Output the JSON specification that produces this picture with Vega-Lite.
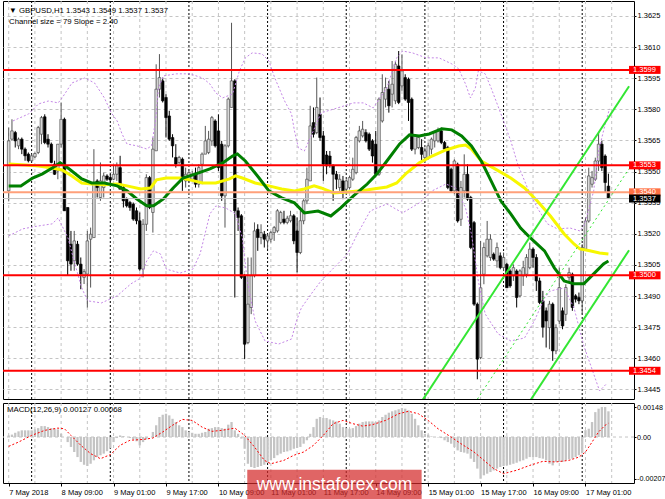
{
  "$schema": "https://vega.github.io/schema/vega-lite/v6.json",
  "background": "#ffffff",
  "padding": {"left": 1, "top": 0, "right": 0, "bottom": 0},
  "spacing": 2,
  "datasets": {
    "candles": [
      {"i":0,"o":1.35407,"h":1.35712,"l":1.35359,"c":1.35648},
      {"i":1,"o":1.35656,"h":1.35752,"l":1.35648,"c":1.35696},
      {"i":2,"o":1.35688,"h":1.35696,"l":1.35616,"c":1.35648},
      {"i":3,"o":1.35624,"h":1.35664,"l":1.35608,"c":1.35656},
      {"i":4,"o":1.35656,"h":1.35664,"l":1.35584,"c":1.35608},
      {"i":5,"o":1.35608,"h":1.35616,"l":1.35552,"c":1.35576},
      {"i":6,"o":1.35584,"h":1.35592,"l":1.35544,"c":1.35552},
      {"i":7,"o":1.35552,"h":1.35584,"l":1.35548,"c":1.35576},
      {"i":8,"o":1.35571,"h":1.35592,"l":1.35565,"c":1.35587},
      {"i":9,"o":1.35592,"h":1.3572,"l":1.35584,"c":1.35712},
      {"i":10,"o":1.3568,"h":1.35768,"l":1.35632,"c":1.3576},
      {"i":11,"o":1.35764,"h":1.35776,"l":1.35632,"c":1.3564},
      {"i":12,"o":1.35656,"h":1.3568,"l":1.35616,"c":1.35632},
      {"i":13,"o":1.35632,"h":1.3564,"l":1.3554,"c":1.35544},
      {"i":14,"o":1.35536,"h":1.35552,"l":1.35484,"c":1.35487},
      {"i":15,"o":1.35503,"h":1.35632,"l":1.35463,"c":1.35632},
      {"i":16,"o":1.35632,"h":1.35833,"l":1.35616,"c":1.35752},
      {"i":17,"o":1.35752,"h":1.3576,"l":1.35311,"c":1.35311},
      {"i":18,"o":1.35327,"h":1.35327,"l":1.34998,"c":1.3507},
      {"i":19,"o":1.3515,"h":1.35214,"l":1.35022,"c":1.35054},
      {"i":20,"o":1.3507,"h":1.35214,"l":1.35022,"c":1.35166},
      {"i":21,"o":1.3515,"h":1.35166,"l":1.35046,"c":1.35054},
      {"i":22,"o":1.35054,"h":1.35086,"l":1.34933,"c":1.35006},
      {"i":23,"o":1.3499,"h":1.3503,"l":1.34958,"c":1.35018},
      {"i":24,"o":1.35006,"h":1.35214,"l":1.34845,"c":1.35166},
      {"i":25,"o":1.35174,"h":1.3523,"l":1.34941,"c":1.35198},
      {"i":26,"o":1.35182,"h":1.35608,"l":1.35182,"c":1.35447},
      {"i":27,"o":1.35455,"h":1.35463,"l":1.35375,"c":1.35423},
      {"i":28,"o":1.35375,"h":1.35544,"l":1.35359,"c":1.35455},
      {"i":29,"o":1.35423,"h":1.35495,"l":1.35375,"c":1.35479},
      {"i":30,"o":1.35479,"h":1.35487,"l":1.35455,"c":1.35463},
      {"i":31,"o":1.35471,"h":1.35487,"l":1.35447,"c":1.35459},
      {"i":32,"o":1.35463,"h":1.35528,"l":1.35459,"c":1.35487},
      {"i":33,"o":1.35487,"h":1.35544,"l":1.35455,"c":1.35528},
      {"i":34,"o":1.35519,"h":1.35576,"l":1.35415,"c":1.35415},
      {"i":35,"o":1.35423,"h":1.35439,"l":1.35327,"c":1.35359},
      {"i":36,"o":1.35367,"h":1.35375,"l":1.35327,"c":1.35335},
      {"i":37,"o":1.35351,"h":1.35359,"l":1.35311,"c":1.35327},
      {"i":38,"o":1.35343,"h":1.35351,"l":1.35263,"c":1.35271},
      {"i":39,"o":1.35311,"h":1.35327,"l":1.35246,"c":1.35263},
      {"i":40,"o":1.35263,"h":1.35303,"l":1.35022,"c":1.3503},
      {"i":41,"o":1.3503,"h":1.35271,"l":1.3499,"c":1.35246},
      {"i":42,"o":1.35246,"h":1.35487,"l":1.35214,"c":1.35471},
      {"i":43,"o":1.35471,"h":1.35479,"l":1.35319,"c":1.35327},
      {"i":44,"o":1.35303,"h":1.35664,"l":1.35206,"c":1.35608},
      {"i":45,"o":1.356,"h":1.36017,"l":1.356,"c":1.35897},
      {"i":46,"o":1.35897,"h":1.36066,"l":1.35857,"c":1.35953},
      {"i":47,"o":1.35937,"h":1.35953,"l":1.35833,"c":1.35841},
      {"i":48,"o":1.35857,"h":1.35873,"l":1.35664,"c":1.3576},
      {"i":49,"o":1.35768,"h":1.35793,"l":1.35648,"c":1.35656},
      {"i":50,"o":1.35664,"h":1.3568,"l":1.35568,"c":1.35624},
      {"i":51,"o":1.35568,"h":1.35632,"l":1.35519,"c":1.35536},
      {"i":52,"o":1.35544,"h":1.35576,"l":1.35536,"c":1.35568},
      {"i":53,"o":1.3556,"h":1.35568,"l":1.35407,"c":1.35471},
      {"i":54,"o":1.35455,"h":1.35519,"l":1.35423,"c":1.35487},
      {"i":55,"o":1.35455,"h":1.35503,"l":1.35447,"c":1.35495},
      {"i":56,"o":1.35463,"h":1.35503,"l":1.35455,"c":1.35487},
      {"i":57,"o":1.35487,"h":1.35519,"l":1.35423,"c":1.35439},
      {"i":58,"o":1.35439,"h":1.35535,"l":1.35423,"c":1.35519},
      {"i":59,"o":1.35535,"h":1.35592,"l":1.35439,"c":1.35584},
      {"i":60,"o":1.35584,"h":1.3572,"l":1.35584,"c":1.35648},
      {"i":61,"o":1.35592,"h":1.35696,"l":1.35584,"c":1.35656},
      {"i":62,"o":1.35648,"h":1.35768,"l":1.35624,"c":1.3576},
      {"i":63,"o":1.35744,"h":1.35752,"l":1.35616,"c":1.35624},
      {"i":64,"o":1.35696,"h":1.35776,"l":1.35503,"c":1.35519},
      {"i":65,"o":1.35632,"h":1.35648,"l":1.35359,"c":1.35383},
      {"i":66,"o":1.35383,"h":1.35632,"l":1.3523,"c":1.35624},
      {"i":67,"o":1.35624,"h":1.35857,"l":1.35616,"c":1.35849},
      {"i":68,"o":1.35809,"h":1.36217,"l":1.35809,"c":1.35937},
      {"i":69,"o":1.35937,"h":1.35945,"l":1.34893,"c":1.35311},
      {"i":70,"o":1.35311,"h":1.35327,"l":1.35214,"c":1.35279},
      {"i":71,"o":1.35287,"h":1.35295,"l":1.34982,"c":1.3499},
      {"i":72,"o":1.34998,"h":1.35006,"l":1.34596,"c":1.34668},
      {"i":73,"o":1.34676,"h":1.35086,"l":1.34668,"c":1.34861},
      {"i":74,"o":1.34845,"h":1.35086,"l":1.34813,"c":1.34998},
      {"i":75,"o":1.34998,"h":1.35255,"l":1.3499,"c":1.35214},
      {"i":76,"o":1.35222,"h":1.35246,"l":1.35118,"c":1.35182},
      {"i":77,"o":1.35182,"h":1.35246,"l":1.3515,"c":1.35206},
      {"i":78,"o":1.35198,"h":1.35214,"l":1.35134,"c":1.35174},
      {"i":79,"o":1.35166,"h":1.35198,"l":1.35126,"c":1.3519},
      {"i":80,"o":1.35174,"h":1.35214,"l":1.35158,"c":1.35206},
      {"i":81,"o":1.35206,"h":1.35238,"l":1.35166,"c":1.3523},
      {"i":82,"o":1.35214,"h":1.35319,"l":1.35206,"c":1.35311},
      {"i":83,"o":1.35255,"h":1.35311,"l":1.35246,"c":1.35303},
      {"i":84,"o":1.35271,"h":1.35311,"l":1.35246,"c":1.35255},
      {"i":85,"o":1.35255,"h":1.35287,"l":1.35246,"c":1.35275},
      {"i":86,"o":1.35263,"h":1.35311,"l":1.35255,"c":1.35287},
      {"i":87,"o":1.35287,"h":1.35295,"l":1.3515,"c":1.35166},
      {"i":88,"o":1.35214,"h":1.35279,"l":1.35014,"c":1.3511},
      {"i":89,"o":1.3511,"h":1.35311,"l":1.35102,"c":1.35263},
      {"i":90,"o":1.35263,"h":1.35367,"l":1.35246,"c":1.35359},
      {"i":91,"o":1.35359,"h":1.35519,"l":1.35343,"c":1.35463},
      {"i":92,"o":1.35455,"h":1.35817,"l":1.35455,"c":1.3572},
      {"i":93,"o":1.35736,"h":1.35809,"l":1.35664,"c":1.3568},
      {"i":94,"o":1.35688,"h":1.35953,"l":1.3568,"c":1.35809},
      {"i":95,"o":1.35776,"h":1.35857,"l":1.35648,"c":1.35664},
      {"i":96,"o":1.35672,"h":1.35696,"l":1.35455,"c":1.35536},
      {"i":97,"o":1.3558,"h":1.35599,"l":1.35487,"c":1.35527},
      {"i":98,"o":1.35575,"h":1.35599,"l":1.35519,"c":1.35535},
      {"i":99,"o":1.35527,"h":1.35535,"l":1.35359,"c":1.35487},
      {"i":100,"o":1.35487,"h":1.35503,"l":1.35415,"c":1.35463},
      {"i":101,"o":1.35423,"h":1.35487,"l":1.35407,"c":1.35463},
      {"i":102,"o":1.35455,"h":1.35479,"l":1.35367,"c":1.35407},
      {"i":103,"o":1.35415,"h":1.35463,"l":1.35407,"c":1.35455},
      {"i":104,"o":1.35423,"h":1.35479,"l":1.35415,"c":1.35471},
      {"i":105,"o":1.35463,"h":1.35567,"l":1.35455,"c":1.35511},
      {"i":106,"o":1.35495,"h":1.35672,"l":1.35487,"c":1.35664},
      {"i":107,"o":1.35648,"h":1.3572,"l":1.3564,"c":1.35696},
      {"i":108,"o":1.35672,"h":1.35744,"l":1.35664,"c":1.35704},
      {"i":109,"o":1.35688,"h":1.35704,"l":1.3564,"c":1.35648},
      {"i":110,"o":1.3568,"h":1.35688,"l":1.35599,"c":1.35608},
      {"i":111,"o":1.35648,"h":1.35656,"l":1.35543,"c":1.35575},
      {"i":112,"o":1.35632,"h":1.35696,"l":1.35479,"c":1.35487},
      {"i":113,"o":1.35487,"h":1.35857,"l":1.35479,"c":1.35849},
      {"i":114,"o":1.35744,"h":1.35969,"l":1.35736,"c":1.35881},
      {"i":115,"o":1.35849,"h":1.35953,"l":1.35809,"c":1.35905},
      {"i":116,"o":1.35897,"h":1.35937,"l":1.35784,"c":1.35817},
      {"i":117,"o":1.35873,"h":1.36033,"l":1.35809,"c":1.35921},
      {"i":118,"o":1.35841,"h":1.36033,"l":1.35825,"c":1.36017},
      {"i":119,"o":1.36009,"h":1.36081,"l":1.35825,"c":1.35833},
      {"i":120,"o":1.35913,"h":1.36065,"l":1.35889,"c":1.35985},
      {"i":121,"o":1.35953,"h":1.35969,"l":1.35841,"c":1.35849},
      {"i":122,"o":1.35945,"h":1.35953,"l":1.35744,"c":1.35833},
      {"i":123,"o":1.35849,"h":1.35857,"l":1.35599,"c":1.35608},
      {"i":124,"o":1.35608,"h":1.3568,"l":1.35583,"c":1.35672},
      {"i":125,"o":1.35616,"h":1.35672,"l":1.35608,"c":1.35664},
      {"i":126,"o":1.35616,"h":1.35656,"l":1.35551,"c":1.35583},
      {"i":127,"o":1.35567,"h":1.35616,"l":1.35551,"c":1.35599},
      {"i":128,"o":1.35567,"h":1.3564,"l":1.35559,"c":1.35624},
      {"i":129,"o":1.35608,"h":1.35664,"l":1.35583,"c":1.35656},
      {"i":130,"o":1.35648,"h":1.35696,"l":1.35616,"c":1.35688},
      {"i":131,"o":1.35648,"h":1.35712,"l":1.3564,"c":1.35696},
      {"i":132,"o":1.35696,"h":1.35712,"l":1.35632,"c":1.3564},
      {"i":133,"o":1.3564,"h":1.35648,"l":1.35599,"c":1.35608},
      {"i":134,"o":1.35616,"h":1.35624,"l":1.35415,"c":1.35423},
      {"i":135,"o":1.35511,"h":1.35519,"l":1.35399,"c":1.35407},
      {"i":136,"o":1.35407,"h":1.35559,"l":1.35391,"c":1.35551},
      {"i":137,"o":1.35535,"h":1.35543,"l":1.35254,"c":1.35262},
      {"i":138,"o":1.3527,"h":1.35455,"l":1.35238,"c":1.35423},
      {"i":139,"o":1.35407,"h":1.35583,"l":1.35375,"c":1.35487},
      {"i":140,"o":1.35487,"h":1.35535,"l":1.35359,"c":1.35367},
      {"i":141,"o":1.35375,"h":1.35383,"l":1.35126,"c":1.35134},
      {"i":142,"o":1.35254,"h":1.35262,"l":1.34853,"c":1.34861},
      {"i":143,"o":1.34861,"h":1.34869,"l":1.34499,"c":1.34596},
      {"i":144,"o":1.34604,"h":1.35166,"l":1.34596,"c":1.3494},
      {"i":145,"o":1.35005,"h":1.35158,"l":1.34957,"c":1.35134},
      {"i":146,"o":1.35094,"h":1.35262,"l":1.35086,"c":1.35174},
      {"i":147,"o":1.35086,"h":1.35198,"l":1.3507,"c":1.35174},
      {"i":148,"o":1.35102,"h":1.3511,"l":1.3507,"c":1.35078},
      {"i":149,"o":1.3507,"h":1.35158,"l":1.35037,"c":1.35134},
      {"i":150,"o":1.35094,"h":1.3511,"l":1.35029,"c":1.35037},
      {"i":151,"o":1.35037,"h":1.3511,"l":1.35021,"c":1.35086},
      {"i":152,"o":1.35053,"h":1.35061,"l":1.3494,"c":1.3494},
      {"i":153,"o":1.35021,"h":1.35029,"l":1.3494,"c":1.34949},
      {"i":154,"o":1.34997,"h":1.35053,"l":1.34973,"c":1.35037},
      {"i":155,"o":1.35021,"h":1.35029,"l":1.34845,"c":1.34893},
      {"i":156,"o":1.34901,"h":1.35029,"l":1.34893,"c":1.35021},
      {"i":157,"o":1.34997,"h":1.3507,"l":1.34949,"c":1.35037},
      {"i":158,"o":1.35005,"h":1.35102,"l":1.34989,"c":1.35086},
      {"i":159,"o":1.35037,"h":1.35158,"l":1.35029,"c":1.35126},
      {"i":160,"o":1.35126,"h":1.35134,"l":1.35037,"c":1.35086},
      {"i":161,"o":1.35086,"h":1.35102,"l":1.34925,"c":1.34973},
      {"i":162,"o":1.34973,"h":1.34989,"l":1.34861,"c":1.34869},
      {"i":163,"o":1.34877,"h":1.34925,"l":1.347,"c":1.3475},
      {"i":164,"o":1.34829,"h":1.34845,"l":1.34652,"c":1.3478},
      {"i":165,"o":1.34748,"h":1.34877,"l":1.34644,"c":1.34861},
      {"i":166,"o":1.34861,"h":1.34869,"l":1.34588,"c":1.34636},
      {"i":167,"o":1.34636,"h":1.34764,"l":1.3462,"c":1.34748},
      {"i":168,"o":1.3478,"h":1.35037,"l":1.34764,"c":1.34941},
      {"i":169,"o":1.34829,"h":1.34845,"l":1.3474,"c":1.34756},
      {"i":170,"o":1.34812,"h":1.34957,"l":1.3478,"c":1.34941},
      {"i":171,"o":1.34989,"h":1.35037,"l":1.34973,"c":1.35013},
      {"i":172,"o":1.35005,"h":1.35013,"l":1.34829,"c":1.34845},
      {"i":173,"o":1.34901,"h":1.34909,"l":1.34869,"c":1.34885},
      {"i":174,"o":1.34893,"h":1.34917,"l":1.34861,"c":1.34877},
      {"i":175,"o":1.34877,"h":1.3515,"l":1.34812,"c":1.35134},
      {"i":176,"o":1.35126,"h":1.35278,"l":1.35118,"c":1.35262},
      {"i":177,"o":1.35262,"h":1.35519,"l":1.35254,"c":1.35479},
      {"i":178,"o":1.35439,"h":1.35503,"l":1.35423,"c":1.35471},
      {"i":179,"o":1.35463,"h":1.35567,"l":1.35455,"c":1.35551},
      {"i":180,"o":1.35551,"h":1.35688,"l":1.35503,"c":1.35632},
      {"i":181,"o":1.35632,"h":1.35648,"l":1.35503,"c":1.35519},
      {"i":182,"o":1.35575,"h":1.35583,"l":1.35399,"c":1.35447},
      {"i":183,"o":1.3543,"h":1.3549,"l":1.3537,"c":1.3537}
    ],
    "maGreen": [
      {"i":0,"p":1.35431},{"i":3.7,"p":1.35431},{"i":7.3,"p":1.35469},{"i":10.3,"p":1.35489},
      {"i":13.3,"p":1.35517},{"i":15.7,"p":1.35542},{"i":18.1,"p":1.35517},{"i":22.3,"p":1.35465},
      {"i":25.3,"p":1.35445},{"i":29.2,"p":1.35445},{"i":33.1,"p":1.35431},{"i":36.1,"p":1.35407},
      {"i":39.1,"p":1.35368},{"i":42.1,"p":1.35335},{"i":44.2,"p":1.35335},{"i":47.2,"p":1.35368},
      {"i":50.2,"p":1.35421},{"i":53.2,"p":1.35469},{"i":57.1,"p":1.35489},{"i":61.4,"p":1.35513},
      {"i":65.3,"p":1.35542},{"i":68.3,"p":1.35575},{"i":69.8,"p":1.35585},{"i":72.2,"p":1.35551},
      {"i":76.4,"p":1.35469},{"i":79.4,"p":1.35407},{"i":83.3,"p":1.35373},{"i":87.2,"p":1.35349},
      {"i":90.2,"p":1.35301},{"i":94.4,"p":1.3531},{"i":98.3,"p":1.35286},{"i":101.3,"p":1.35325},
      {"i":105.2,"p":1.35383},{"i":109.4,"p":1.3544},{"i":112.4,"p":1.35489},{"i":115.4,"p":1.35551},
      {"i":119.3,"p":1.35633},{"i":122.3,"p":1.35677},{"i":125.3,"p":1.35672},{"i":128.3,"p":1.35681},
      {"i":132.2,"p":1.35706},{"i":135.2,"p":1.35701},{"i":138.2,"p":1.35672},{"i":141.2,"p":1.35624},
      {"i":144.2,"p":1.35551},{"i":147.2,"p":1.35455},{"i":150.2,"p":1.35358},{"i":153.2,"p":1.35296},
      {"i":156.2,"p":1.35228},{"i":159.2,"p":1.3518},{"i":163.5,"p":1.35118},{"i":166.5,"p":1.35036},
      {"i":169.5,"p":1.34973},{"i":172.5,"p":1.34959},{"i":175.5,"p":1.34959},{"i":178.5,"p":1.35007},
      {"i":181.5,"p":1.35055},{"i":183,"p":1.35069}
    ],
    "maYellow": [
      {"i":0,"p":1.35537},{"i":5.2,"p":1.35532},{"i":9.1,"p":1.35527},{"i":13.3,"p":1.35517},
      {"i":16.3,"p":1.35508},{"i":19.3,"p":1.35479},{"i":22.3,"p":1.35445},{"i":25.3,"p":1.3544},
      {"i":29.2,"p":1.35436},{"i":33.1,"p":1.3544},{"i":36.1,"p":1.35431},{"i":40.3,"p":1.35416},
      {"i":43.3,"p":1.35421},{"i":45.1,"p":1.3546},{"i":48.1,"p":1.35469},{"i":52.3,"p":1.35469},
      {"i":55.3,"p":1.3546},{"i":59.2,"p":1.35445},{"i":63.2,"p":1.35445},{"i":67.4,"p":1.35465},
      {"i":69.2,"p":1.35479},{"i":71.3,"p":1.35469},{"i":75.2,"p":1.35445},{"i":79.4,"p":1.35431},
      {"i":83.3,"p":1.35416},{"i":87.2,"p":1.35407},{"i":90.2,"p":1.35416},{"i":93.2,"p":1.35431},
      {"i":95.3,"p":1.35421},{"i":99.2,"p":1.35397},{"i":103.4,"p":1.35402},{"i":107.3,"p":1.35407},
      {"i":111.2,"p":1.35416},{"i":115.4,"p":1.35426},{"i":118.4,"p":1.35445},{"i":121.4,"p":1.35493},
      {"i":125.3,"p":1.35542},{"i":129.2,"p":1.35575},{"i":133.4,"p":1.35604},{"i":137.3,"p":1.35623},
      {"i":139.4,"p":1.35628},{"i":141.2,"p":1.35609},{"i":144.2,"p":1.35551},{"i":148.4,"p":1.35513},
      {"i":153.2,"p":1.35469},{"i":157.4,"p":1.35421},{"i":161.3,"p":1.35358},{"i":165.3,"p":1.35286},
      {"i":169.5,"p":1.35199},{"i":172.5,"p":1.35151},{"i":174.3,"p":1.35127},{"i":177.3,"p":1.35118},
      {"i":180.3,"p":1.35108},{"i":183,"p":1.35103}
    ],
    "bands": [
      {"b":"u","i":1.3,"p":1.35744},{"b":"u","i":6.1,"p":1.35778},{"b":"u","i":9.1,"p":1.35826},{"b":"u","i":12.1,"p":1.3584},
      {"b":"u","i":15.1,"p":1.35831},{"b":"u","i":16.3,"p":1.35855},{"b":"u","i":19.3,"p":1.35927},{"b":"u","i":23.2,"p":1.35951},
      {"b":"u","i":26.2,"p":1.35927},{"b":"u","i":29.2,"p":1.35855},{"b":"u","i":31.3,"p":1.35783},{"b":"u","i":33.1,"p":1.35744},
      {"b":"u","i":34.6,"p":1.35681},{"b":"u","i":36.1,"p":1.35633},{"b":"u","i":39.1,"p":1.35624},{"b":"u","i":42.1,"p":1.35609},
      {"b":"u","i":43.6,"p":1.35624},{"b":"u","i":44.8,"p":1.35744},{"b":"u","i":45.7,"p":1.35903},{"b":"u","i":47.2,"p":1.35961},
      {"b":"u","i":51.1,"p":1.35971},{"b":"u","i":55.3,"p":1.35971},{"b":"u","i":59.2,"p":1.35951},{"b":"u","i":61.4,"p":1.35922},
      {"b":"u","i":63.2,"p":1.35879},{"b":"u","i":65.3,"p":1.35855},{"b":"u","i":68.3,"p":1.35874},{"b":"u","i":70.4,"p":1.35985},
      {"b":"u","i":72.2,"p":1.36048},{"b":"u","i":74.3,"p":1.36072},{"b":"u","i":77.3,"p":1.36067},{"b":"u","i":79.4,"p":1.36033},
      {"b":"u","i":81.2,"p":1.35951},{"b":"u","i":84.2,"p":1.3584},{"b":"u","i":86.3,"p":1.35778},{"b":"u","i":87.2,"p":1.35696},
      {"b":"u","i":88.4,"p":1.35614},{"b":"u","i":90.2,"p":1.35599},{"b":"u","i":92.3,"p":1.35672},{"b":"u","i":95.3,"p":1.35783},
      {"b":"u","i":100.4,"p":1.35807},{"b":"u","i":105.2,"p":1.35831},{"b":"u","i":108.2,"p":1.35831},{"b":"u","i":111.2,"p":1.35807},
      {"b":"u","i":115.4,"p":1.35903},{"b":"u","i":118.4,"p":1.36048},{"b":"u","i":120.2,"p":1.36081},{"b":"u","i":123.2,"p":1.36072},
      {"b":"u","i":127.4,"p":1.36048},{"b":"u","i":131.3,"p":1.36048},{"b":"u","i":135.2,"p":1.36019},{"b":"u","i":137.3,"p":1.35995},
      {"b":"u","i":139.4,"p":1.35922},{"b":"u","i":140.9,"p":1.35855},{"b":"u","i":142.4,"p":1.35903},{"b":"u","i":143.3,"p":1.35985},
      {"b":"u","i":145.4,"p":1.35971},{"b":"u","i":147.2,"p":1.35903},{"b":"u","i":150.2,"p":1.35778},{"b":"u","i":153.2,"p":1.35648},
      {"b":"u","i":155.3,"p":1.35537},{"b":"u","i":158.3,"p":1.35421},{"b":"u","i":161.3,"p":1.35325},{"b":"u","i":164.4,"p":1.35248},
      {"b":"u","i":167.4,"p":1.35224},{"b":"u","i":171.3,"p":1.35228},{"b":"u","i":174.3,"p":1.35214},{"b":"u","i":175.5,"p":1.35238},
      {"b":"u","i":176.9,"p":1.3531},{"b":"u","i":178.5,"p":1.35407},{"b":"u","i":180,"p":1.35599},{"b":"u","i":181.5,"p":1.35696},
      {"b":"u","i":183.3,"p":1.35802},
      {"b":"l","i":0,"p":1.3519},{"b":"l","i":4.3,"p":1.35224},{"b":"l","i":9.1,"p":1.35238},{"b":"l","i":13.3,"p":1.35248},
      {"b":"l","i":15.1,"p":1.35277},{"b":"l","i":18.1,"p":1.3518},{"b":"l","i":20.2,"p":1.35055},{"b":"l","i":22.3,"p":1.34939},
      {"b":"l","i":24.1,"p":1.34877},{"b":"l","i":28.3,"p":1.34867},{"b":"l","i":33.1,"p":1.34901},{"b":"l","i":37.3,"p":1.34959},
      {"b":"l","i":40.3,"p":1.34987},{"b":"l","i":42.1,"p":1.35069},{"b":"l","i":44.2,"p":1.35118},{"b":"l","i":46.3,"p":1.35103},
      {"b":"l","i":48.1,"p":1.3503},{"b":"l","i":52.3,"p":1.35011},{"b":"l","i":56.2,"p":1.3503},{"b":"l","i":58.4,"p":1.35103},
      {"b":"l","i":59.9,"p":1.35199},{"b":"l","i":61.4,"p":1.35296},{"b":"l","i":63.2,"p":1.35334},{"b":"l","i":66.2,"p":1.35325},
      {"b":"l","i":69.2,"p":1.35296},{"b":"l","i":71.3,"p":1.3518},{"b":"l","i":72.8,"p":1.34973},{"b":"l","i":75.2,"p":1.3478},
      {"b":"l","i":78.2,"p":1.34684},{"b":"l","i":82.4,"p":1.34669},{"b":"l","i":86.3,"p":1.34693},{"b":"l","i":87.8,"p":1.3478},
      {"b":"l","i":89.3,"p":1.34843},{"b":"l","i":92.3,"p":1.3491},{"b":"l","i":95.3,"p":1.34973},{"b":"l","i":99.2,"p":1.35036},
      {"b":"l","i":103.4,"p":1.35103},{"b":"l","i":106.4,"p":1.35199},{"b":"l","i":110.3,"p":1.3531},{"b":"l","i":115.4,"p":1.35344},
      {"b":"l","i":120.2,"p":1.35301},{"b":"l","i":125.3,"p":1.35349},{"b":"l","i":129.2,"p":1.35407},{"b":"l","i":133.4,"p":1.3544},
      {"b":"l","i":136.4,"p":1.35421},{"b":"l","i":139.4,"p":1.35325},{"b":"l","i":141.2,"p":1.35199},{"b":"l","i":143.3,"p":1.34973},
      {"b":"l","i":145.4,"p":1.34814},{"b":"l","i":149.3,"p":1.34718},{"b":"l","i":153.2,"p":1.34684},{"b":"l","i":157.4,"p":1.34698},
      {"b":"l","i":160.4,"p":1.3478},{"b":"l","i":163.5,"p":1.34891},{"b":"l","i":165.3,"p":1.34925},{"b":"l","i":169.5,"p":1.34939},
      {"b":"l","i":172.5,"p":1.34843},{"b":"l","i":175.5,"p":1.3466},{"b":"l","i":178.5,"p":1.34525},{"b":"l","i":180.3,"p":1.34443},
      {"b":"l","i":182.4,"p":1.34477}
    ],
    "channel": [
      {"line":"upper","i":126,"p":1.34392},{"line":"upper","i":189.3,"p":1.35911},
      {"line":"mid","i":143,"p":1.34403},{"line":"mid","i":189.3,"p":1.35514},
      {"line":"lower","i":159,"p":1.34393},{"line":"lower","i":189.3,"p":1.35121}
    ],
    "levels": [
      {"p":1.3599,"kind":"level"},{"p":1.3553,"kind":"level"},{"p":1.35,"kind":"level"},
      {"p":1.3454,"kind":"level"},{"p":1.354,"kind":"pending"},{"p":1.3537,"kind":"bid"}
    ],
    "days": [{"i":7},{"i":31},{"i":55},{"i":79},{"i":103},{"i":127},{"i":151},{"i":175}],
    "grid": [{"i":0},{"i":8},{"i":16},{"i":24},{"i":32},{"i":40},{"i":48},{"i":56},{"i":64},{"i":72},{"i":80},{"i":88},{"i":96},{"i":104},{"i":112},{"i":120},{"i":128},{"i":136},{"i":144},{"i":152},{"i":160},{"i":168},{"i":176},{"i":184}],
    "macd": [
      {"i":0,"m":0.00008},{"i":1,"m":0.00012},{"i":2,"m":0.00021},{"i":3,"m":0.00028},{"i":4,"m":0.00033},
      {"i":5,"m":0.00033},{"i":6,"m":0.00033},{"i":7,"m":0.00033},{"i":8,"m":0.00038},{"i":9,"m":0.00044},
      {"i":10,"m":0.00054},{"i":11,"m":0.00054},{"i":12,"m":0.00049},{"i":13,"m":0.00044},{"i":14,"m":0.00041},
      {"i":15,"m":0.00038},{"i":16,"m":0.00016},{"i":17,"m":0},{"i":18,"m":-0.00025},{"i":19,"m":-0.00049},
      {"i":20,"m":-0.00074},{"i":21,"m":-0.00099},{"i":22,"m":-0.00123},{"i":23,"m":-0.00137},{"i":24,"m":-0.00143},
      {"i":25,"m":-0.00132},{"i":26,"m":-0.00115},{"i":27,"m":-0.00099},{"i":28,"m":-0.0009},{"i":29,"m":-0.00082},
      {"i":30,"m":-0.0007},{"i":31,"m":-0.00055},{"i":32,"m":-0.00025},{"i":33,"m":-0.00005},{"i":34,"m":0.00008},
      {"i":35,"m":0.00005},{"i":36,"m":0},{"i":37,"m":-0.00005},{"i":38,"m":-0.00012},{"i":39,"m":-0.00021},
      {"i":40,"m":-0.00041},{"i":41,"m":-0.00025},{"i":42,"m":-0.00012},{"i":43,"m":0},{"i":44,"m":0.00025},
      {"i":45,"m":0.00058},{"i":46,"m":0.00099},{"i":47,"m":0.0011},{"i":48,"m":0.00115},{"i":49,"m":0.00107},
      {"i":50,"m":0.0009},{"i":51,"m":0.00074},{"i":52,"m":0.00058},{"i":53,"m":0.00049},{"i":54,"m":0.00033},
      {"i":55,"m":0.00025},{"i":56,"m":0.00021},{"i":57,"m":0.00016},{"i":58,"m":0.00016},{"i":59,"m":0.00021},
      {"i":60,"m":0.00025},{"i":61,"m":0.00041},{"i":62,"m":0.00044},{"i":63,"m":0.00049},{"i":64,"m":0.00049},
      {"i":65,"m":0.00044},{"i":66,"m":0.00041},{"i":67,"m":0.00061},{"i":68,"m":0.00074},{"i":69,"m":0.00033},
      {"i":70,"m":0.00016},{"i":71,"m":-0.00008},{"i":72,"m":-0.00058},{"i":73,"m":-0.00132},{"i":74,"m":-0.00148},
      {"i":75,"m":-0.00153},{"i":76,"m":-0.00148},{"i":77,"m":-0.00143},{"i":78,"m":-0.00137},{"i":79,"m":-0.00127},
      {"i":80,"m":-0.00115},{"i":81,"m":-0.00104},{"i":82,"m":-0.0009},{"i":83,"m":-0.00082},{"i":84,"m":-0.00074},
      {"i":85,"m":-0.00071},{"i":86,"m":-0.00066},{"i":87,"m":-0.00058},{"i":88,"m":-0.00054},{"i":89,"m":-0.00049},
      {"i":90,"m":-0.00033},{"i":91,"m":-0.00016},{"i":92,"m":0.00016},{"i":93,"m":0.00049},{"i":94,"m":0.0009},
      {"i":95,"m":0.00099},{"i":96,"m":0.00094},{"i":97,"m":0.00094},{"i":98,"m":0.00087},{"i":99,"m":0.00082},
      {"i":100,"m":0.00077},{"i":101,"m":0.00066},{"i":102,"m":0.00049},{"i":103,"m":0.00044},{"i":104,"m":0.00041},
      {"i":105,"m":0.00044},{"i":106,"m":0.00054},{"i":107,"m":0.00066},{"i":108,"m":0.00074},{"i":109,"m":0.00077},
      {"i":110,"m":0.00077},{"i":111,"m":0.00077},{"i":112,"m":0.00074},{"i":113,"m":0.00082},{"i":114,"m":0.00099},
      {"i":115,"m":0.0011},{"i":116,"m":0.0012},{"i":117,"m":0.00127},{"i":118,"m":0.00132},{"i":119,"m":0.00137},
      {"i":120,"m":0.00143},{"i":121,"m":0.0014},{"i":122,"m":0.00132},{"i":123,"m":0.00115},{"i":124,"m":0.0009},
      {"i":125,"m":0.00058},{"i":126,"m":0.00033},{"i":127,"m":0.00016},{"i":128,"m":0.00012},{"i":129,"m":0.00003},
      {"i":130,"m":0},{"i":131,"m":-0.00002},{"i":132,"m":-0.00005},{"i":133,"m":-0.00016},{"i":134,"m":-0.00025},
      {"i":135,"m":-0.00033},{"i":136,"m":-0.0005},{"i":137,"m":-0.00066},{"i":138,"m":-0.00074},{"i":139,"m":-0.00077},
      {"i":140,"m":-0.00082},{"i":141,"m":-0.00107},{"i":142,"m":-0.00123},{"i":143,"m":-0.00156},{"i":144,"m":-0.00206},
      {"i":145,"m":-0.00189},{"i":146,"m":-0.00181},{"i":147,"m":-0.00173},{"i":148,"m":-0.00165},{"i":149,"m":-0.00156},
      {"i":150,"m":-0.00148},{"i":151,"m":-0.00143},{"i":152,"m":-0.0014},{"i":153,"m":-0.00137},{"i":154,"m":-0.00132},
      {"i":155,"m":-0.00127},{"i":156,"m":-0.0012},{"i":157,"m":-0.00115},{"i":158,"m":-0.00107},{"i":159,"m":-0.00099},
      {"i":160,"m":-0.00099},{"i":161,"m":-0.00099},{"i":162,"m":-0.00104},{"i":163,"m":-0.00107},{"i":164,"m":-0.00115},
      {"i":165,"m":-0.00132},{"i":166,"m":-0.0014},{"i":167,"m":-0.00123},{"i":168,"m":-0.00123},{"i":169,"m":-0.00123},
      {"i":170,"m":-0.00115},{"i":171,"m":-0.0011},{"i":172,"m":-0.00107},{"i":173,"m":-0.00099},{"i":174,"m":-0.0009},
      {"i":175,"m":-0.0008},{"i":176,"m":0.00034},{"i":177,"m":0.00041},{"i":178,"m":0.00074},{"i":179,"m":0.00123},
      {"i":180,"m":0.0014},{"i":181,"m":0.00148},{"i":182,"m":0.00148},{"i":183,"m":0.00127}
    ],
    "signal": [
      {"i":0,"s":-0.00046},{"i":3,"s":-0.00025},{"i":7,"s":0.00008},{"i":11,"s":0.00033},{"i":15,"s":0.00044},
      {"i":17,"s":0.00041},{"i":19,"s":0.00008},{"i":22,"s":-0.00041},{"i":25,"s":-0.00082},{"i":28,"s":-0.00107},
      {"i":31,"s":-0.00087},{"i":34,"s":-0.00041},{"i":37,"s":-0.00016},{"i":41,"s":-0.00012},{"i":44,"s":-0.00005},
      {"i":47,"s":0.00025},{"i":50,"s":0.00058},{"i":53,"s":0.00087},{"i":56,"s":0.00082},{"i":59,"s":0.00049},
      {"i":62,"s":0.00028},{"i":65,"s":0.00033},{"i":69,"s":0.00044},{"i":72,"s":0.00008},{"i":75,"s":-0.00049},
      {"i":78,"s":-0.00115},{"i":80,"s":-0.00132},{"i":84,"s":-0.00115},{"i":87,"s":-0.0009},{"i":90,"s":-0.00074},
      {"i":93,"s":-0.00041},{"i":96,"s":0.00008},{"i":99,"s":0.00066},{"i":102,"s":0.00082},{"i":105,"s":0.00066},
      {"i":108,"s":0.00054},{"i":111,"s":0.00061},{"i":115,"s":0.00082},{"i":119,"s":0.00115},{"i":122,"s":0.00127},
      {"i":125,"s":0.00115},{"i":128,"s":0.00082},{"i":131,"s":0.00041},{"i":135,"s":0},{"i":138,"s":-0.00033},
      {"i":142,"s":-0.00074},{"i":145,"s":-0.00115},{"i":148,"s":-0.00156},{"i":151,"s":-0.00181},{"i":155,"s":-0.00164},
      {"i":159,"s":-0.0014},{"i":163,"s":-0.0012},{"i":167,"s":-0.00123},{"i":171,"s":-0.00115},{"i":174,"s":-0.00099},
      {"i":176,"s":-0.00074},{"i":178,"s":-0.00025},{"i":180,"s":0.00025},{"i":182,"s":0.00058},{"i":183,"s":0.00068}
    ]
  },
  "vconcat": [
    {
      "width": 631,
      "height": 398,
      "title": {
        "text": "▼ GBPUSD,H1 1.3543 1.3549 1.3537 1.3537",
        "subtitle": "Channel size = 79 Slope = 2.40",
        "anchor": "start", "frame": "group", "orient": "top",
        "offset": -25, "dx": 6,
        "font": "Liberation Sans", "fontSize": 7.8, "fontWeight": "normal", "color": "#000000",
        "subtitleFont": "Liberation Sans", "subtitleFontSize": 7.8, "subtitleColor": "#000000", "subtitlePadding": 3
      },
      "encoding": {
        "x": {"type": "quantitative", "scale": {"domain": [-0.21, 189.28], "nice": false, "zero": false}},
        "y": {"type": "quantitative", "scale": {"domain": [1.34404, 1.36322], "nice": false, "zero": false},
          "axis": {"orient": "right", "values": [1.3445,1.346,1.3475,1.349,1.3505,1.352,1.3535,1.355,1.3565,1.358,1.3595,1.361,1.3625],
            "format": ".4f", "grid": true, "tickSize": 2, "labelPadding": 1, "domain": false, "title": null, "zindex": 0}}
      },
      "layer": [
        {
          "data": {"name": "grid"},
          "mark": {"type": "rule", "color": "#c4c4c4", "strokeDash": [3, 3], "strokeWidth": 1},
          "encoding": {"x": {"field": "i", "type": "quantitative", "axis": null}}
        },
        {
          "data": {"name": "days"},
          "mark": {"type": "rule", "color": "#000000", "strokeDash": [2, 2], "strokeWidth": 1},
          "encoding": {"x": {"field": "i", "type": "quantitative", "axis": null}}
        },
        {
          "data": {"name": "candles"},
          "mark": {"type": "rule", "strokeWidth": 1},
          "encoding": {
            "x": {"field": "i", "type": "quantitative", "axis": null},
            "y": {"field": "l"},
            "y2": {"field": "h"},
            "color": {"condition": {"test": "datum.c >= datum.o", "value": "#555555"}, "value": "#000000"}
          }
        },
        {
          "data": {"name": "candles"},
          "mark": {"type": "bar", "width": 2.6, "strokeWidth": 0.6},
          "encoding": {
            "x": {"field": "i", "type": "quantitative", "axis": null},
            "y": {"field": "o"},
            "y2": {"field": "c"},
            "color": {"condition": {"test": "datum.c >= datum.o", "value": "#d9d9d9"}, "value": "#000000"},
            "stroke": {"condition": {"test": "datum.c >= datum.o", "value": "#3a3a3a"}, "value": "#000000"}
          }
        },
        {
          "data": {"name": "bands"},
          "mark": {"type": "line", "color": "#c487e6", "strokeWidth": 1, "strokeDash": [2, 2], "clip": true},
          "encoding": {
            "x": {"field": "i", "type": "quantitative", "axis": null},
            "y": {"field": "p"},
            "detail": {"field": "b"}
          }
        },
        {
          "data": {"name": "maYellow"},
          "mark": {"type": "line", "color": "#f7f700", "strokeWidth": 3},
          "encoding": {"x": {"field": "i", "type": "quantitative", "axis": null}, "y": {"field": "p"}}
        },
        {
          "data": {"name": "maGreen"},
          "mark": {"type": "line", "color": "#007f00", "strokeWidth": 3},
          "encoding": {"x": {"field": "i", "type": "quantitative", "axis": null}, "y": {"field": "p"}}
        },
        {
          "data": {"name": "channel"},
          "transform": [{"filter": "datum.line !== 'mid'"}],
          "mark": {"type": "line", "color": "#33e633", "strokeWidth": 2, "clip": true},
          "encoding": {"x": {"field": "i", "type": "quantitative", "axis": null}, "y": {"field": "p"}, "detail": {"field": "line"}}
        },
        {
          "data": {"name": "channel"},
          "transform": [{"filter": "datum.line === 'mid'"}],
          "mark": {"type": "line", "color": "#33e633", "strokeWidth": 1, "strokeDash": [2, 3], "clip": true},
          "encoding": {"x": {"field": "i", "type": "quantitative", "axis": null}, "y": {"field": "p"}}
        },
        {
          "data": {"name": "levels"},
          "mark": {"type": "rule"},
          "encoding": {
            "y": {"field": "p"},
            "color": {"condition": [{"test": "datum.kind === 'bid'", "value": "#c0c0c0"}, {"test": "datum.kind === 'pending'", "value": "#ffa07a"}], "value": "#ff0000"},
            "strokeWidth": {"condition": {"test": "datum.kind === 'bid'", "value": 1}, "value": 2}
          }
        },
        {
          "data": {"name": "levels"},
          "mark": {"type": "rect", "height": 8},
          "encoding": {
            "x": {"datum": 189.28, "type": "quantitative", "axis": null},
            "x2": {"datum": 198.9},
            "y": {"field": "p"},
            "color": {"condition": [{"test": "datum.kind === 'bid'", "value": "#000000"}, {"test": "datum.kind === 'pending'", "value": "#ff7043"}], "value": "#ff0000"}
          }
        },
        {
          "data": {"name": "levels"},
          "mark": {"type": "text", "align": "left", "baseline": "middle", "dx": 4, "font": "Liberation Sans", "fontSize": 7.5, "color": "#ffffff"},
          "encoding": {
            "x": {"datum": 189.28, "type": "quantitative", "axis": null},
            "y": {"field": "p"},
            "text": {"field": "p", "type": "quantitative", "format": ".4f"}
          }
        }
      ]
    },
    {
      "width": 631,
      "height": 80,
      "title": {
        "text": "MACD(12,26,9) 0.00127 0.00068",
        "anchor": "start", "frame": "group", "orient": "top",
        "offset": -11, "dx": 4,
        "font": "Liberation Sans", "fontSize": 7.8, "fontWeight": "normal", "color": "#000000"
      },
      "encoding": {
        "x": {"type": "quantitative", "scale": {"domain": [-0.21, 189.28], "nice": false, "zero": false},
          "axis": {"orient": "bottom", "values": [0,16,32,48,64,80,96,112,128,144,160,176],
            "grid": false, "domain": false, "title": null, "tickSize": 3, "zindex": 0,
            "labelExpr": "['7 May 2018','8 May 09:00','9 May 01:00','9 May 17:00','10 May 09:00','11 May 01:00','11 May 17:00','14 May 09:00','15 May 01:00','15 May 17:00','16 May 09:00','17 May 01:00'][round(datum.value / 16)]",
            "labelAlign": "left", "labelBaseline": "top", "labelPadding": 2}},
        "y": {"type": "quantitative", "scale": {"domain": [-0.00227, 0.00168], "nice": false, "zero": false},
          "axis": {"orient": "right", "values": [0.00148, 0, -0.00207],
            "labelExpr": "datum.value === 0 ? '0.00' : (datum.value < 0 ? '-' : '') + format(abs(datum.value), '.5f')",
            "grid": false, "tickSize": 2, "labelPadding": 0.5, "labelFontSize": 7.2, "domain": false, "title": null, "zindex": 0}}
      },
      "layer": [
        {
          "data": {"name": "grid"},
          "mark": {"type": "rule", "color": "#c4c4c4", "strokeDash": [3, 3], "strokeWidth": 1},
          "encoding": {"x": {"field": "i"}}
        },
        {
          "data": {"values": [{"z": 0}]},
          "mark": {"type": "rule", "color": "#c4c4c4", "strokeDash": [3, 3], "strokeWidth": 1},
          "encoding": {"y": {"field": "z"}}
        },
        {
          "data": {"name": "days"},
          "mark": {"type": "rule", "color": "#000000", "strokeDash": [2, 2], "strokeWidth": 1},
          "encoding": {"x": {"field": "i"}}
        },
        {
          "data": {"name": "macd"},
          "mark": {"type": "bar", "width": 2.3, "color": "#c4c4c4"},
          "encoding": {
            "x": {"field": "i"},
            "y": {"field": "m"},
            "y2": {"datum": 0}
          }
        },
        {
          "data": {"name": "signal"},
          "mark": {"type": "line", "color": "#ff0000", "strokeWidth": 1, "strokeDash": [2, 2]},
          "encoding": {"x": {"field": "i"}, "y": {"field": "s"}}
        },
        {
          "data": {"values": [{"t": "www.instaforex.com"}]},
          "mark": {"type": "rect", "color": "#d42a2a", "opacity": 0.72},
          "encoding": {
            "x": {"datum": 72.8},
            "x2": {"datum": 126},
            "y": {"datum": -0.00162},
            "y2": {"datum": -0.00312}
          }
        },
        {
          "data": {"values": [{"t": "www.instaforex.com"}]},
          "mark": {"type": "text", "align": "center", "baseline": "middle", "font": "Liberation Sans", "fontSize": 17.5, "color": "#ffffff"},
          "encoding": {
            "x": {"datum": 99.4},
            "y": {"datum": -0.00237},
            "text": {"field": "t"}
          }
        }
      ]
    }
  ],
  "resolve": {"scale": {"x": "independent", "y": "independent"}},
  "config": {
    "view": {"stroke": "#000000", "strokeWidth": 1},
    "axis": {
      "labelFont": "Liberation Sans", "labelFontSize": 7.5, "labelColor": "#000000",
      "gridColor": "#c4c4c4", "gridDash": [3, 3], "gridWidth": 1, "tickColor": "#000000"
    }
  }
}
